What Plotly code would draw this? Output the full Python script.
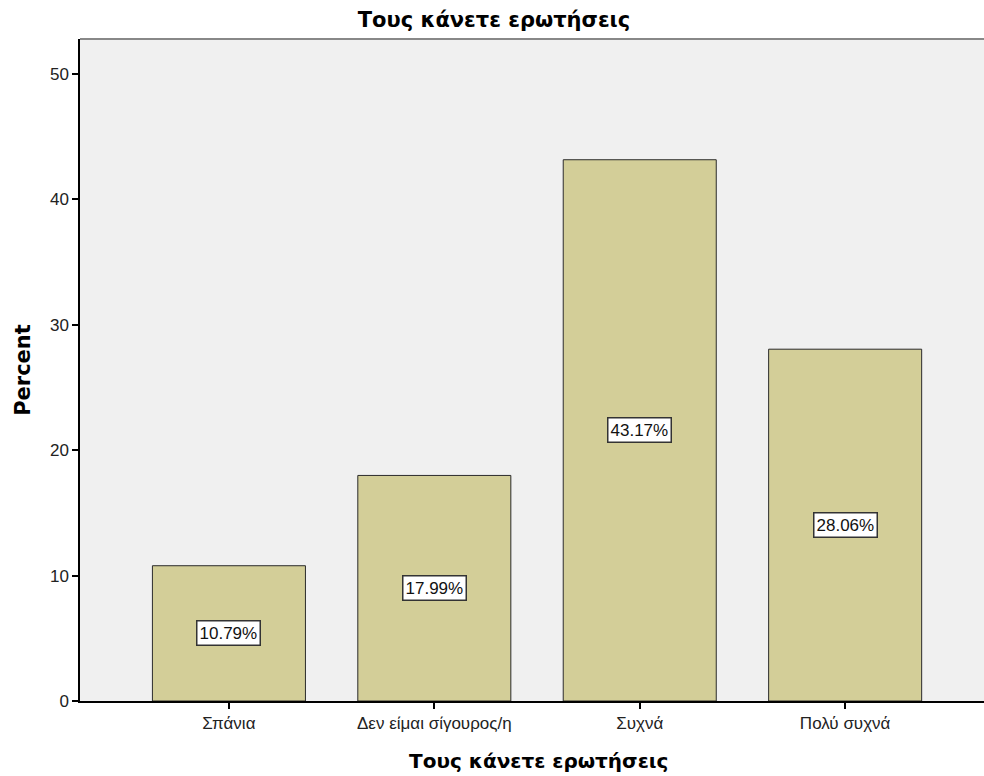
import plotly.graph_objects as go

categories = ["Σπάνια", "Δεν είμαι σίγουρος/η", "Συχνά", "Πολύ συχνά"]
percents = [10.79, 17.99, 43.17, 28.06]
y_ticks = [0, 10, 20, 30, 40, 50]

title_text = "Τους κάνετε ερωτήσεις"
label_font = "Liberation Sans, Arial, sans-serif"
title_font = "DejaVu Sans, Verdana, sans-serif"

W, H = 984, 776
ML, MR, MT, MB = 80, 0, 39, 75
plot_w = W - ML - MR
plot_h = H - MT - MB

fig = go.Figure()
fig.add_trace(go.Bar(
    x=categories,
    y=percents,
    width=0.745,
    marker=dict(color="#D3CE98", line=dict(color="#2b2b2b", width=1)),
    hoverinfo="skip",
))

# value labels centred inside each bar
for cat, val in zip(categories, percents):
    fig.add_annotation(
        x=cat, y=val / 2, xref="x", yref="y",
        text=f"{val:.2f}%", showarrow=False,
        font=dict(family=label_font, size=17, color="#111"),
        bgcolor="#ffffff", bordercolor="#333333", borderwidth=1.5, borderpad=2,
    )

# category axis title, placed below the tick labels
fig.add_annotation(
    x=(538 - ML) / plot_w, y=-(761 - (MT + plot_h)) / plot_h,
    xref="paper", yref="paper", xanchor="center", yanchor="middle",
    text="<b>" + title_text + "</b>", showarrow=False,
    font=dict(family=title_font, size=20, color="#000"),
)

fig.update_layout(
    width=W, height=H,
    margin=dict(l=ML, r=MR, t=MT, b=MB),
    paper_bgcolor="#ffffff",
    plot_bgcolor="#F0F0F0",
    showlegend=False,
    font=dict(family=label_font, size=17, color="#222"),
    title=dict(
        text="<b>" + title_text + "</b>", x=494 / W, xref="container", xanchor="center",
        y=1 - 20 / H, yref="container", yanchor="middle",
        font=dict(family=title_font, size=21, color="#000"),
    ),
    xaxis=dict(
        range=[-0.725, 3.676],
        showline=True, linecolor="#000", linewidth=1.5,
        ticks="outside", ticklen=6, tickcolor="#000", tickwidth=1.5,
        tickfont=dict(family=label_font, size=17, color="#222"),
        showgrid=False, fixedrange=True,
    ),
    yaxis=dict(
        range=[0, 52.8],
        tickvals=y_ticks,
        showline=True, linecolor="#000", linewidth=1.5,
        ticks="outside", ticklen=6, tickcolor="#000", tickwidth=1.5,
        tickfont=dict(family=label_font, size=17, color="#222"),
        title=dict(text="<b>Percent</b>", standoff=14,
                   font=dict(family=title_font, size=21, color="#000")),
        showgrid=False, zeroline=False, fixedrange=True,
    ),
    shapes=[dict(type="line", xref="paper", yref="paper", x0=0, x1=1, y0=1, y1=1,
                 line=dict(color="#888888", width=2))],
)

fig.write_html("out.html")
